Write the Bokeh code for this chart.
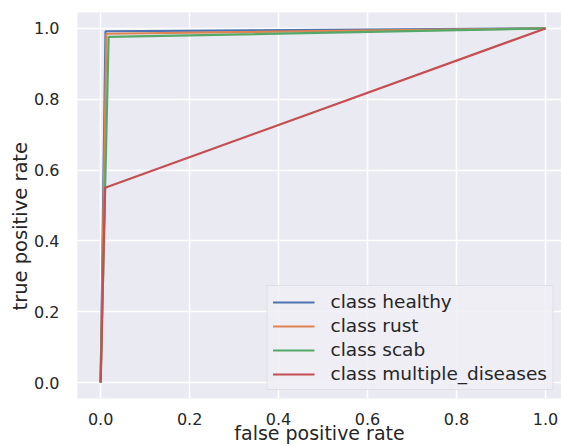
from bokeh.plotting import figure
from bokeh.models import Legend, LegendItem, FixedTicker, PrintfTickFormatter, Title, Range1d
from bokeh.embed import file_html
from bokeh.resources import INLINE

# ROC curve data
fpr_healthy = [0.0, 0.011, 1.0]
tpr_healthy = [0.0, 0.992, 1.0]
fpr_rust = [0.0, 0.013, 1.0]
tpr_rust = [0.0, 0.985, 1.0]
fpr_scab = [0.0, 0.018, 1.0]
tpr_scab = [0.0, 0.976, 1.0]
fpr_multi = [0.0, 0.01, 1.0]
tpr_multi = [0.0, 0.55, 1.0]

class_names = ["class healthy", "class rust", "class scab", "class multiple_diseases"]
tick_values = [0.0, 0.2, 0.4, 0.6, 0.8, 1.0]
colors = ["#4C72B0", "#DD8452", "#55A868", "#C44E52"]

FONT = "DejaVu Sans"
TXT = "#262626"

p = figure(width=561, height=446, output_backend="svg", toolbar_location=None,
           x_range=Range1d(-0.052, 1.036), y_range=Range1d(-0.045, 1.045),
           min_border_left=77, min_border_right=0, min_border_top=12, min_border_bottom=48)
p.background_fill_color = "#EAEAF2"
p.border_fill_color = "white"
p.outline_line_color = None

for ax in (p.xaxis[0], p.yaxis[0]):
    ax.ticker = FixedTicker(ticks=tick_values)
    ax.formatter = PrintfTickFormatter(format="%.1f")
    ax.axis_line_color = None
    ax.major_tick_line_color = None
    ax.minor_tick_line_color = None
    ax.major_label_text_font = FONT
    ax.major_label_text_font_size = "16px"
    ax.major_label_text_color = TXT

p.xaxis.major_label_standoff = 8
p.yaxis.major_label_standoff = 12
p.xaxis.axis_label = "false positive rate"
p.xaxis.axis_label_text_font = FONT
p.xaxis.axis_label_text_font_size = "19px"
p.xaxis.axis_label_text_font_style = "normal"
p.xaxis.axis_label_text_color = TXT
p.xaxis.axis_label_standoff = -6

p.xgrid.grid_line_color = "white"
p.ygrid.grid_line_color = "white"
p.xgrid.grid_line_width = 1.5
p.ygrid.grid_line_width = 1.5
p.xgrid.ticker = FixedTicker(ticks=tick_values)
p.ygrid.ticker = FixedTicker(ticks=tick_values)

series = [(fpr_healthy, tpr_healthy), (fpr_rust, tpr_rust), (fpr_scab, tpr_scab), (fpr_multi, tpr_multi)]
items = []
for (fx, ty), name, c in zip(series, class_names, colors):
    r = p.line(fx, ty, line_color=c, line_width=2.2)
    items.append(LegendItem(label=name, renderers=[r]))

legend = Legend(items=items, location="bottom_right")
legend.margin = 8
legend.padding = 5
legend.spacing = 3
legend.label_height = 20
legend.glyph_height = 20
legend.glyph_width = 42
legend.label_standoff = 16
legend.label_text_font = FONT
legend.label_text_font_size = "18.5px"
legend.label_text_color = TXT
legend.background_fill_color = "#EEEEF4"
legend.background_fill_alpha = 0.85
legend.border_line_color = "#CFCFD6"
legend.border_line_width = 1
p.add_layout(legend)

ytitle = Title(text="true positive rate", align="left", offset=88, standoff=0,
               text_font=FONT, text_font_size="19.5px", text_font_style="normal",
               text_color=TXT)
p.add_layout(ytitle, "left")

open("out.html", "w").write(file_html(p, INLINE))
